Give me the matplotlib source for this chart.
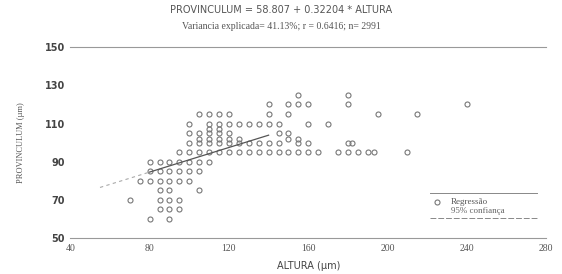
import matplotlib.pyplot as plt
import numpy as np

# (altura, provinculum), row by row
prov_rows = {
    60: [80, 90],
    65: [85, 90, 95],
    70: [70, 85, 90, 95],
    75: [85, 90, 105],
    80: [75, 80, 85, 90, 95, 100],
    85: [80, 85, 90, 95, 100, 105],
    90: [80, 85, 90, 95, 100, 105, 110],
    95: [95, 100, 105, 110, 115, 120, 125, 130, 135, 140, 145, 150, 155,
         160, 165, 175, 180, 185, 190, 193, 210],
    100: [100, 105, 110, 115, 120, 125, 130, 135, 140, 145, 155, 160, 180, 182],
    102: [105, 110, 115, 120, 125, 150, 155],
    105: [100, 105, 110, 115, 120, 145, 150],
    107: [110, 115],
    110: [100, 110, 115, 120, 125, 130, 135, 140, 145, 160, 170],
    115: [105, 110, 115, 120, 140, 150, 195, 215],
    120: [140, 150, 155, 160, 180, 240],
    125: [155, 180],
}

intercept = 58.807
slope = 0.32204
line_start, line_mid, line_end = 55, 80, 140

x_ticks = [40, 80, 120, 160, 200, 240, 280]
x_labels = ["40", "80", "120", "160", "200", "240", "280"]
y_ticks = [50, 70, 90, 110, 130, 150]

altura = []
provinculum = []
for p, xs in prov_rows.items():
    altura += xs
    provinculum += [p] * len(xs)

plt.rcParams['font.family'] = ['Liberation Serif', 'DejaVu Serif']

fig = plt.figure(figsize=(5.62, 2.74), dpi=100)
ax = fig.add_axes([0.125, 0.131, 0.847, 0.697])

ax.plot(altura, provinculum, 'o', ms=3.6, mfc='none', mec='#777777', mew=0.8,
        label="Regressão")

xa = np.array([line_start, line_mid])
ax.plot(xa, intercept + slope * xa, color='#aaaaaa', lw=0.8, ls=(0, (3, 3)))
xb = np.array([line_mid, line_end])
ax.plot(xb, intercept + slope * xb, color='#555555', lw=0.9)

ax.set_xlim(40, 280)
ax.set_ylim(50, 150)
ax.set_xticks(x_ticks)
ax.set_xticklabels(x_labels, fontsize=7, color='#555555')
ax.set_yticks(y_ticks)
ax.set_yticklabels([str(v) for v in y_ticks], fontsize=7, color='#444444',
                   family='DejaVu Sans', fontweight='bold')
ax.tick_params(length=0, pad=4)

for s in ['left', 'right']:
    ax.spines[s].set_visible(False)
for s in ['top', 'bottom']:
    ax.spines[s].set_color('#999999')
    ax.spines[s].set_linewidth(0.8)

ax.set_xlabel("ALTURA (µm)", fontsize=7, color='#444444', family='DejaVu Sans', labelpad=6)
ax.set_ylabel("PROVINCULUM (µm)", fontsize=6, color='#555555', labelpad=14)

fig.text(0.5, 0.965, "PROVINCULUM = 58.807 + 0.32204 * ALTURA", ha='center', va='center',
         fontsize=7, color='#555555', family='DejaVu Sans')
fig.text(0.5, 0.905, "Variancia explicada= 41.13%; r = 0.6416; n= 2991", ha='center',
         va='center', fontsize=7, color='#555555')

# legend box (only top and bottom rules, as in the original)
ax.plot([0.756, 0.981], [0.235, 0.235], transform=ax.transAxes, color='#888888', lw=0.7)
ax.plot([0.756, 0.981], [0.105, 0.105], transform=ax.transAxes, color='#888888', lw=0.7,
        ls=(0, (6, 2)))
ax.plot([0.77], [0.19], 'o', transform=ax.transAxes, ms=3.6, mfc='none', mec='#777777', mew=0.8)
ax.text(0.80, 0.19, "Regressão", transform=ax.transAxes, fontsize=6.5, color='#555555',
        va='center')
ax.text(0.80, 0.14, "95% confiança", transform=ax.transAxes, fontsize=6.5, color='#666666',
        va='center')

fig.savefig("out.png", dpi=100)
